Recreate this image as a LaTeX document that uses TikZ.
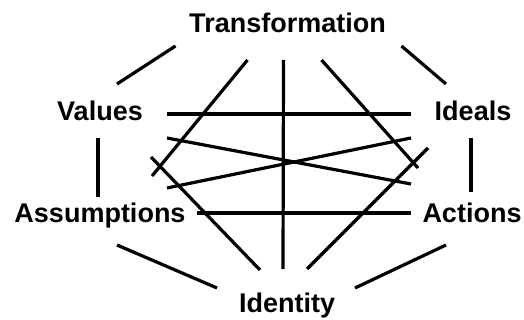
\documentclass[tikz,border=0pt]{standalone}
\usepackage{fontspec}
\setmainfont{Liberation Sans}
\usepackage{tikz}
\usetikzlibrary{calc}

\begin{document}
\begin{tikzpicture}[x=0.75pt,y=0.75pt,yscale=-1,xscale=1,
  wordnode/.style={anchor=base,inner sep=0.75pt,font=\fontsize{20.25}{24}\selectfont\bfseries},
  linkline/.style={line width=2.4pt}]
%set diagram left start at 0, and has height of 320
\path[use as bounding box] (0,0) rectangle (524,320);

% Text Node
\node[wordnode] (trans) at (287.5,33) {Transformation};
% Text Node
\node[wordnode] (values) at (100,121) {Values};
% Text Node
\node[wordnode] (ideals) at (473,121) {Ideals};
% Text Node
\node[wordnode] (assum) at (100,223) {Assumptions};
% Text Node
\node[wordnode] (actions) at (472,223) {Actions};
% Text Node
\node[wordnode] (ident) at (287,312) {Identity};

%Straight Lines
\draw[linkline] ($(trans.base)+(-112,13)$) -- ($(values.base)+(17,-37)$);
\draw[linkline] ($(trans.base)+(114,13)$) -- ($(ideals.base)+(-27,-37)$);
\draw[linkline] ($(trans.base)+(-40,27)$) -- ($(assum.base)+(52,-47)$);
\draw[linkline] ($(trans.base)+(-4,27)$) -- ($(ident.base)+(-4,-43)$);
\draw[linkline] ($(trans.base)+(34,27)$) -- ($(actions.base)+(-54,-55)$);
%Straight Lines
\draw[linkline] ($(values.base)+(67,-7)$) -- ($(ideals.base)+(-62,-7)$);
\draw[linkline] ($(values.base)+(-2,17)$) -- ($(assum.base)+(-2,-26)$);
\draw[linkline] ($(values.base)+(67,17)$) -- ($(actions.base)+(-61,-39)$);
\draw[linkline] ($(values.base)+(51,36)$) -- ($(ident.base)+(-27,-42)$);
%Straight Lines
\draw[linkline] ($(ideals.base)+(-62,17)$) -- ($(assum.base)+(67,-35)$);
\draw[linkline] ($(ideals.base)+(-2,17)$) -- ($(actions.base)+(-1,-31)$);
\draw[linkline] ($(ideals.base)+(-45,27)$) -- ($(ident.base)+(20,-43)$);
%Straight Lines
\draw[linkline] ($(assum.base)+(97,-10)$) -- ($(actions.base)+(-61,-10)$);
\draw[linkline] ($(assum.base)+(17,22)$) -- ($(ident.base)+(-70,-24)$);
\draw[linkline] ($(actions.base)+(-26,22)$) -- ($(ident.base)+(68,-24)$);

\end{tikzpicture}
\end{document}
